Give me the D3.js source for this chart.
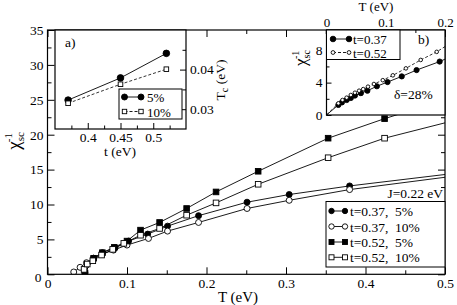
<!DOCTYPE html>
<html><head><meta charset="utf-8">
<script src="https://cdn.jsdelivr.net/npm/d3@7"></script>
<style>
body{margin:0;background:#fff}
svg, svg text{font-family:"Liberation Serif","Times New Roman",Times,"DejaVu Serif","Noto Serif",serif}
text{fill:#000}
</style>
</head><body><svg id="c" width="457" height="305"></svg>
<script>
// ---------- main panel data ----------
const xTicks = [0, 0.1, 0.2, 0.3, 0.4, 0.5];
const yTicks = [0, 5, 10, 15, 20, 25, 30, 35];
const s37_5T  = [0.047,0.058,0.069,0.085,0.102,0.126,0.151,0.190,0.251,0.304,0.380];
const s37_5V  = [0.2,2.3,3.1,3.8,4.76,5.76,6.9,8.4,10.33,11.43,12.66];
const s37_10T = [0.033,0.041,0.049,0.058,0.069,0.083,0.100,0.127,0.151,0.190,0.251,0.304,0.380];
const s37_10V = [0.33,1.0,1.66,2.3,2.9,3.47,4.19,5.14,6.19,7.43,9.43,10.6,12.14];
const s52_5T  = [0.047,0.058,0.069,0.084,0.100,0.117,0.141,0.175,0.212,0.265,0.353,0.424];
const s52_5V  = [0.2,2.3,3.1,3.86,4.76,6.33,7.43,9.43,11.8,14.76,19.5,22.3];
const s52_10T = [0.046,0.050,0.057,0.068,0.082,0.096,0.117,0.141,0.175,0.212,0.265,0.353,0.424];
const s52_10V = [0.7,1.47,1.94,2.76,3.57,4.43,5.6,6.57,8.47,10.23,12.9,16.7,19.5];
// line end values at T = 0.5 (curve continues past last symbol)
const lineEndT = 0.5;
const lineEndV = [14.3, 13.9, 25.0, 21.7];
const mainLabels = ["t=0.37,  5%", "t=0.37,  10%", "t=0.52,  5%", "t=0.52,  10%"];

// ---------- inset a data ----------
const aT = [0.37, 0.45, 0.52];
const aTc5 = [0.0323, 0.0379, 0.0441];
const aTc10 = [0.0315, 0.0363, 0.0401];
const aXTicks = [0.4, 0.45, 0.5];
const aYTicks = [0.03, 0.04];
const aLabels = ["5%", "10%"];

// ---------- inset b data ----------
const b37T = [0.020,0.026,0.034,0.041,0.048,0.058,0.069,0.085,0.103,0.127,0.152,0.191];
const b37V = [1.25,1.55,1.85,2.1,2.4,2.7,3.0,3.55,4.07,4.77,5.55,6.6];
const b52T = [0.020,0.027,0.034,0.041,0.048,0.055,0.062,0.070,0.080,0.095,0.112,0.134,0.159,0.186];
const b52V = [1.44,1.85,2.14,2.47,2.75,3.0,3.2,3.5,3.83,4.3,4.9,5.76,6.8,7.8];
const bLineStart = [0, 0];     // both curves start at T=0, chi^-1=0
const bLineEnd = [6.9, 8.45];  // values at T=0.2
const bXTicks = [0, 0.1, 0.2];
const bYTicks = [0, 4, 8];
const bLabels = ["t=0.37", "t=0.52"];

const FONT = '"Liberation Serif","Times New Roman",Times,"DejaVu Serif","Noto Serif",serif';
const svg = d3.select("#c").attr("font-family", FONT);
const FS = 13.5;

function txt(x, y, s, size, anchor) {
  return svg.append("text").attr("x", x).attr("y", y).attr("font-size", size || FS)
    .attr("font-family", FONT).attr("text-anchor", anchor || "start").text(s);
}
function marker(g, type, x, y, s) {
  if (type === "fc" || type === "oc") {
    g.append("circle").attr("cx", x).attr("cy", y).attr("r", s)
      .attr("fill", type === "fc" ? "#000" : "#fff").attr("stroke", "#000").attr("stroke-width", 0.9);
  } else {
    g.append("rect").attr("x", x - s).attr("y", y - s).attr("width", 2 * s).attr("height", 2 * s)
      .attr("fill", type === "fs" ? "#000" : "#fff").attr("stroke", "#000").attr("stroke-width", 0.9);
  }
}
function styleAxis(g) {
  g.attr("font-family", FONT);
  g.select(".domain").remove();
  g.selectAll("line").attr("stroke", "#000").attr("stroke-width", 1);
  g.selectAll("text").attr("font-size", FS).attr("font-family", FONT);
}

// ================= MAIN =================
const L = 47.5, R = 445, T = 30, B = 274.3;
const x = d3.scaleLinear([0, 0.5], [L, R]);
const y = d3.scaleLinear([0, 35], [B, T]);
const xMinor = [0.05, 0.15, 0.25, 0.35, 0.45];
const yMinor = [2.5, 7.5, 12.5, 17.5, 22.5, 27.5, 32.5];

const gx = svg.append("g").attr("transform", `translate(0,${B})`)
  .call(d3.axisBottom(x).tickValues(xTicks).tickSizeInner(-7).tickSizeOuter(0).tickPadding(4)
    .tickFormat(d => d === 0 ? "0" : d3.format(".1f")(d)));
styleAxis(gx);
svg.append("g").attr("transform", `translate(0,${B})`)
  .call(d3.axisBottom(x).tickValues(xMinor).tickSizeInner(-4).tickSizeOuter(0).tickFormat("")).call(styleAxis);
const gy = svg.append("g").attr("transform", `translate(${L},0)`)
  .call(d3.axisLeft(y).tickValues(yTicks).tickSizeInner(-7).tickSizeOuter(0).tickPadding(4));
styleAxis(gy);
gy.selectAll(".tick text").filter(d => d === 0).attr("dy", "0.55em").attr("x", -6);
svg.append("g").attr("transform", `translate(${L},0)`)
  .call(d3.axisLeft(y).tickValues(yMinor).tickSizeInner(-4).tickSizeOuter(0).tickFormat("")).call(styleAxis);
// mirrored ticks
svg.append("g").attr("transform", `translate(0,${T})`)
  .call(d3.axisTop(x).tickValues(xTicks).tickSizeInner(-7).tickSizeOuter(0).tickFormat("")).call(styleAxis);
svg.append("g").attr("transform", `translate(0,${T})`)
  .call(d3.axisTop(x).tickValues(xMinor).tickSizeInner(-4).tickSizeOuter(0).tickFormat("")).call(styleAxis);
svg.append("g").attr("transform", `translate(${R},0)`)
  .call(d3.axisRight(y).tickValues(yTicks).tickSizeInner(-7).tickSizeOuter(0).tickFormat("")).call(styleAxis);
svg.append("g").attr("transform", `translate(${R},0)`)
  .call(d3.axisRight(y).tickValues(yMinor).tickSizeInner(-4).tickSizeOuter(0).tickFormat("")).call(styleAxis);

svg.append("clipPath").attr("id", "clipMain").append("rect")
  .attr("x", L).attr("y", T).attr("width", R - L).attr("height", B - T);

const mainSeries = [
  {T: s37_5T, V: s37_5V, m: "fc", s: 3},
  {T: s37_10T, V: s37_10V, m: "oc", s: 3},
  {T: s52_5T, V: s52_5V, m: "fs", s: 2.8},
  {T: s52_10T, V: s52_10V, m: "os", s: 2.8},
];
const lineGen = d3.line().x(d => x(d[0])).y(d => y(d[1]));
const gm = svg.append("g").attr("clip-path", "url(#clipMain)");
mainSeries.forEach((s, i) => {
  const pts = s.T.map((t, k) => [t, s.V[k]]).concat([[lineEndT, lineEndV[i]]]);
  gm.append("path").attr("d", lineGen(pts)).attr("fill", "none").attr("stroke", "#000").attr("stroke-width", 0.9);
});
mainSeries.forEach(s => {
  s.T.forEach((t, k) => marker(gm, s.m, x(t), y(s.V[k]), s.s));
});
svg.append("rect").attr("x", L).attr("y", T).attr("width", R - L).attr("height", B - T)
  .attr("fill", "none").attr("stroke", "#000").attr("stroke-width", 1.2);

// axis titles
txt(238, 302, "T (eV)", 15, "middle");
const yl = svg.append("text").attr("transform", "translate(20,141) rotate(-90)").attr("text-anchor", "middle").attr("font-family", FONT);
yl.append("tspan").attr("font-size", 19).text("χ");
yl.append("tspan").attr("font-size", 11).attr("dy", 4).text("sc");
yl.append("tspan").attr("font-size", 11).attr("dx", -10).attr("dy", -12).text("-1");

// main legend
txt(443, 198, "J=0.22 eV", FS, "end");
svg.append("rect").attr("x", 326).attr("y", 201.5).attr("width", 119).attr("height", 65.5)
  .attr("fill", "#fff").attr("stroke", "#000").attr("stroke-width", 1);
const legY = [211, 226.5, 242, 257.3];
mainSeries.forEach((s, i) => {
  const g = svg.append("g");
  g.append("line").attr("x1", 331.5).attr("x2", 345).attr("y1", legY[i]).attr("y2", legY[i]).attr("stroke", "#000").attr("stroke-width", 0.9);
  marker(g, s.m, 331.5, legY[i], s.s - 0.3);
  marker(g, s.m, 345, legY[i], s.s - 0.3);
  txt(350, legY[i] + 5, mainLabels[i]).style("white-space", "pre");
});

// ================= INSET A =================
const aL = 55, aR = 186, aTp = 30, aB = 129;
const xa = d3.scaleLinear([0.35, 0.55], [aL, aR]);
const ya = d3.scaleLinear([0.025, 0.05], [aB, aTp]);
svg.append("rect").attr("x", aL).attr("y", aTp).attr("width", aR - aL).attr("height", aB - aTp).attr("fill", "#fff");
const gax = svg.append("g").attr("transform", `translate(0,${aB})`)
  .call(d3.axisBottom(xa).tickValues(aXTicks).tickSizeInner(-6).tickSizeOuter(0).tickPadding(3)
    .tickFormat(d => String(d)));
styleAxis(gax);
svg.append("g").attr("transform", `translate(0,${aB})`)
  .call(d3.axisBottom(xa).tickValues([0.375, 0.425, 0.475, 0.525]).tickSizeInner(-3.5).tickSizeOuter(0).tickFormat("")).call(styleAxis);
const gay = svg.append("g").attr("transform", `translate(${aR},0)`)
  .call(d3.axisRight(ya).tickValues(aYTicks).tickSizeInner(-6).tickSizeOuter(0).tickPadding(4)
    .tickFormat(d3.format(".2f")));
styleAxis(gay);
svg.append("g").attr("transform", `translate(${aR},0)`)
  .call(d3.axisRight(ya).tickValues([0.035, 0.045]).tickSizeInner(-3.5).tickSizeOuter(0).tickFormat("")).call(styleAxis);

const la = d3.line().x(d => xa(d[0])).y(d => ya(d[1]));
svg.append("path").attr("d", la(aT.map((t, i) => [t, aTc5[i]]))).attr("fill", "none").attr("stroke", "#000").attr("stroke-width", 0.9);
svg.append("path").attr("d", la(aT.map((t, i) => [t, aTc10[i]]))).attr("fill", "none").attr("stroke", "#000")
  .attr("stroke-width", 0.8).attr("stroke-dasharray", "3,2");
const gaM = svg.append("g");
aT.forEach((t, i) => marker(gaM, "fc", xa(t), ya(aTc5[i]), 3.3));
aT.forEach((t, i) => marker(gaM, "os", xa(t), ya(aTc10[i]), 2.3));
svg.append("rect").attr("x", aL).attr("y", aTp).attr("width", aR - aL).attr("height", aB - aTp)
  .attr("fill", "none").attr("stroke", "#000").attr("stroke-width", 1.2);
txt(65, 47, "a)");
txt(120, 156, "t (eV)", FS, "middle");
const tcl = svg.append("text").attr("transform", "translate(225,80) rotate(-90)").attr("text-anchor", "middle")
  .attr("font-size", FS).attr("font-family", FONT);
tcl.append("tspan").text("T");
tcl.append("tspan").attr("font-size", 10).attr("dy", 3).text("c");
tcl.append("tspan").attr("dy", -3).text(" (eV)");
// legend a
svg.append("rect").attr("x", 119).attr("y", 89).attr("width", 63).attr("height", 30)
  .attr("fill", "#fff").attr("stroke", "#000").attr("stroke-width", 1);
[[97, "fc", 3.0, null], [111.5, "os", 2.2, "3,2"]].forEach((r, i) => {
  const g = svg.append("g");
  const ln = g.append("line").attr("x1", 124.5).attr("x2", 141).attr("y1", r[0]).attr("y2", r[0]).attr("stroke", "#000").attr("stroke-width", 0.9);
  if (r[3]) ln.attr("stroke-dasharray", r[3]);
  marker(g, r[1], 124.5, r[0], r[2]);
  marker(g, r[1], 141, r[0], r[2]);
  txt(147, r[0] + 5, aLabels[i], 13);
});

// ================= INSET B =================
const bL = 326.5, bR = 445, bTp = 30, bB = 115;
const xb = d3.scaleLinear([0, 0.2], [bL, bR]);
const yb = d3.scaleLinear([0, 10.5], [bB, bTp]);
svg.append("rect").attr("x", bL).attr("y", bTp).attr("width", bR - bL).attr("height", bB - bTp).attr("fill", "#fff");
const gbx = svg.append("g").attr("transform", `translate(0,${bTp})`)
  .call(d3.axisTop(xb).tickValues(bXTicks).tickSizeInner(-5).tickSizeOuter(0).tickPadding(3)
    .tickFormat(d => d === 0 ? "0" : d3.format(".1f")(d)));
styleAxis(gbx);
gbx.selectAll("text").attr("font-size", 13);
svg.append("g").attr("transform", `translate(0,${bTp})`)
  .call(d3.axisTop(xb).tickValues([0.05, 0.15]).tickSizeInner(-3).tickSizeOuter(0).tickFormat("")).call(styleAxis);
const gby = svg.append("g").attr("transform", `translate(${bL},0)`)
  .call(d3.axisLeft(yb).tickValues(bYTicks).tickSizeInner(-5).tickSizeOuter(0).tickPadding(4));
styleAxis(gby);
svg.append("g").attr("transform", `translate(${bL},0)`)
  .call(d3.axisLeft(yb).tickValues([2, 6, 10]).tickSizeInner(-3).tickSizeOuter(0).tickFormat("")).call(styleAxis);

const lb = d3.line().x(d => xb(d[0])).y(d => yb(d[1]));
const b37 = [[0, bLineStart[0]]].concat(b37T.map((t, i) => [t, b37V[i]])).concat([[0.2, bLineEnd[0]]]);
const b52 = [[0, bLineStart[1]]].concat(b52T.map((t, i) => [t, b52V[i]])).concat([[0.2, bLineEnd[1]]]);
svg.append("path").attr("d", lb(b37)).attr("fill", "none").attr("stroke", "#000").attr("stroke-width", 0.9);
svg.append("path").attr("d", lb(b52)).attr("fill", "none").attr("stroke", "#000").attr("stroke-width", 0.8).attr("stroke-dasharray", "3,2");
const gbM = svg.append("g");
b37T.forEach((t, i) => marker(gbM, "fc", xb(t), yb(b37V[i]), 2.6));
b52T.forEach((t, i) => marker(gbM, "oc", xb(t), yb(b52V[i]), 1.8));
svg.append("rect").attr("x", bL).attr("y", bTp).attr("width", bR - bL).attr("height", bB - bTp)
  .attr("fill", "none").attr("stroke", "#000").attr("stroke-width", 1.2);
txt(376, 11, "T (eV)", 13, "middle");
const ybl = svg.append("text").attr("transform", "translate(306,58) rotate(-90)").attr("text-anchor", "middle").attr("font-family", FONT);
ybl.append("tspan").attr("font-size", 17).text("χ");
ybl.append("tspan").attr("font-size", 10).attr("dy", 4).text("sc");
ybl.append("tspan").attr("font-size", 10).attr("dx", -9).attr("dy", -11).text("-1");
txt(418, 44, "b)");
txt(394, 99, "δ=28%");
// legend b
svg.append("rect").attr("x", bL).attr("y", bTp).attr("width", 73.5).attr("height", 29.5)
  .attr("fill", "#fff").attr("stroke", "#000").attr("stroke-width", 1);
[[39, "fc", 2.8, null], [52.5, "oc", 1.9, "3,2"]].forEach((r, i) => {
  const g = svg.append("g");
  const ln = g.append("line").attr("x1", 333).attr("x2", 349).attr("y1", r[0]).attr("y2", r[0]).attr("stroke", "#000").attr("stroke-width", 0.9);
  if (r[3]) ln.attr("stroke-dasharray", r[3]);
  marker(g, r[1], 333, r[0], r[2]);
  marker(g, r[1], 349, r[0], r[2]);
  txt(353, r[0] + 5, bLabels[i], 13);
});
</script>
</body></html>
